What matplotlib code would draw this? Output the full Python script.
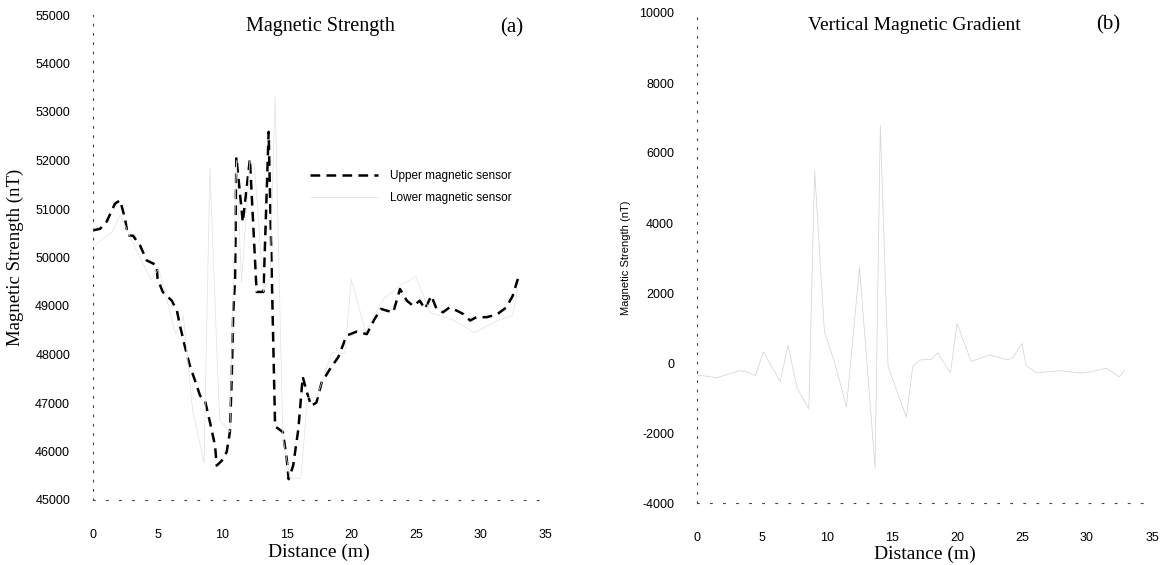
import numpy as np
import matplotlib
matplotlib.use('Agg')
import matplotlib.pyplot as plt

plt.rcParams['lines.scale_dashes'] = False
plt.rcParams['axes.unicode_minus'] = False

# upper sensor (a)
upper_x = [0, 0.54, 1.06, 1.7, 2.1, 2.48, 2.7, 3.1, 3.64, 4.16, 4.93, 5.0, 5.4, 6.1, 6.5, 6.74,
           7.1, 7.5, 8.03, 8.29, 8.67, 9.06, 9.45, 9.58, 9.97, 10.35, 10.6, 10.74, 10.86, 11.0,
           11.1, 11.6, 12.15, 12.67, 13.2, 13.6, 14.1, 14.7, 15.0, 15.15, 15.5, 15.9, 16.24,
           16.55, 16.9, 17.3, 17.7, 18.35, 19.0, 19.64, 20.4, 21.2, 21.8, 22.3, 22.8, 23.25,
           23.77, 24.3, 24.8, 25.3, 25.7, 26.2, 26.6, 27.1, 27.6, 28.2, 28.7, 29.2, 29.7, 30.5,
           31.3, 32.0, 32.5, 32.9]
upper_y = [50560, 50590, 50740, 51110, 51180, 50800, 50450, 50450, 50250, 49940, 49840, 49560,
           49290, 49110, 48900, 48590, 48180, 47770, 47360, 47150, 47050, 46600, 46120, 45710,
           45810, 45990, 46400, 47490, 48870, 49560, 52070, 50730, 52030, 49290, 49290, 52590,
           46520, 46400, 45850, 45430, 45710, 46460, 47540, 47230, 46940, 47010, 47420, 47700,
           47950, 48390, 48470, 48420, 48730, 48940, 48900, 48870, 49350, 49110, 49000, 49110,
           48940, 49210, 48940, 48870, 48970, 48900, 48830, 48700, 48770, 48770, 48830, 48970,
           49210, 49560]

# lower sensor (a), faint in the scan
lower_x = [0, 1.5, 2.1, 3.3, 4.5, 5.1, 6.4, 7.0, 7.7, 8.6, 9.05, 9.8, 10.6, 11.1, 11.5, 12.15,
           12.5, 13.2, 13.7, 14.1, 14.7, 15.25, 16.1, 16.6, 17.3, 18.5, 19.5, 20.0, 21.1, 22.5,
           23.8, 25.0, 26.1, 27.9, 29.5, 31.5, 32.5, 32.9]
lower_y = [50220, 50530, 50880, 50180, 49540, 49770, 48420, 48790, 46880, 45760, 51850, 46650,
           46400, 52000, 49480, 52000, 51900, 49300, 49600, 53320, 46300, 45450, 45450, 47110,
           47100, 48040, 48020, 49560, 48470, 49150, 49420, 49610, 48870, 48710, 48450, 48720,
           48810, 49360]

# vertical gradient (b)
grad_x = [0, 1.5, 3.3, 3.8, 4.5, 5.1, 6.4, 7.0, 7.7, 8.6, 9.05, 9.8, 10.6, 11.5, 12.5, 13.7,
          14.1, 14.7, 16.1, 16.6, 17.2, 18.0, 18.5, 19.5, 20.0, 21.1, 21.5, 22.5, 23.9, 24.3,
          25.0, 25.3, 26.1, 27.9, 29.5, 30.3, 31.5, 32.5, 32.9]
grad_y = [-340, -420, -220, -250, -360, 320, -530, 510, -720, -1310, 5500, 900, 0, -1250, 2740,
          -3000, 6800, -100, -1550, -90, 90, 100, 290, -280, 1130, 40, 100, 230, 90, 150, 560,
          -60, -280, -220, -290, -250, -150, -400, -200]

x_ticks = [0, 5, 10, 15, 20, 25, 30, 35]
ya_ticks = [45000, 46000, 47000, 48000, 49000, 50000, 51000, 52000, 53000, 54000, 55000]
yb_ticks = [-4000, -2000, 0, 2000, 4000, 6000, 8000, 10000]

serif = 'Liberation Serif'
sans = 'Liberation Sans'

fig = plt.figure(figsize=(11.68, 5.65), dpi=100)
ax1 = fig.add_axes([93/1168, 65/565, 452/1168, 485/565])
ax2 = fig.add_axes([697/1168, 62/565, 455/1168, 490/565])

ax1.plot(upper_x, upper_y, color='black', lw=1.8, dashes=(7, 4.5), label='Upper magnetic sensor')
ax1.plot(lower_x, lower_y, color='#e2e2e2', lw=0.5, label='Lower magnetic sensor')
ax2.plot(grad_x, grad_y, color='#d2d2d2', lw=0.5)

for ax, yt, ylim in [(ax1, ya_ticks, (45000, 55000)), (ax2, yb_ticks, (-4000, 10000))]:
    ax.set_xlim(0, 35)
    ax.set_ylim(*ylim)
    ax.set_xticks(x_ticks)
    ax.set_yticks(yt)
    ax.tick_params(length=0, labelsize=9)
    ax.tick_params(axis='y', pad=16.5)
    ax.tick_params(axis='x', pad=21)
    for lab in ax.get_xticklabels() + ax.get_yticklabels():
        lab.set_fontfamily(sans)
    ax.spines['top'].set_visible(False)
    ax.spines['right'].set_visible(False)
    ax.spines['bottom'].set_linestyle((0, (1.2, 8.2)))
    ax.spines['left'].set_linestyle((0, (1.2, 5.5)))
    ax.spines['bottom'].set_color('#444444')
    ax.spines['left'].set_color('#444444')

ax1.set_xlabel('Distance (m)', fontfamily=serif, fontsize=14)
ax1.xaxis.set_label_coords(0.5, -0.09)
ax1.set_ylabel('Magnetic Strength (nT)', fontfamily=serif, fontsize=13.5)
ax1.yaxis.set_label_coords(-0.152, 0.5)

ax2.set_xlabel('Distance (m)', fontfamily=serif, fontsize=14)
ax2.xaxis.set_label_coords(0.5, -0.088)
ax2.set_ylabel('Magnetic Strength (nT)', fontfamily=sans, fontsize=8)
ax2.yaxis.set_label_coords(-0.145, 0.5)

fig.text(320/1168, 1-27/565, 'Magnetic Strength', fontfamily=serif, fontsize=14.5, ha='center', va='center')
fig.text(512/1168, 1-28/565, '(a)', fontfamily=serif, fontsize=15, ha='center', va='center')
fig.text(914/1168, 1-25/565, 'Vertical Magnetic Gradient', fontfamily=serif, fontsize=14, ha='center', va='center')
fig.text(1108/1168, 1-25/565, '(b)', fontfamily=serif, fontsize=15, ha='center', va='center')

ax1.legend(loc='upper left', bbox_to_anchor=(212/452, 1-150/485), frameon=False,
           prop={'family': sans, 'size': 8.5}, handlelength=5.8, handletextpad=1.0,
           labelspacing=0.85, borderaxespad=0)

fig.savefig('out.png', dpi=100)
